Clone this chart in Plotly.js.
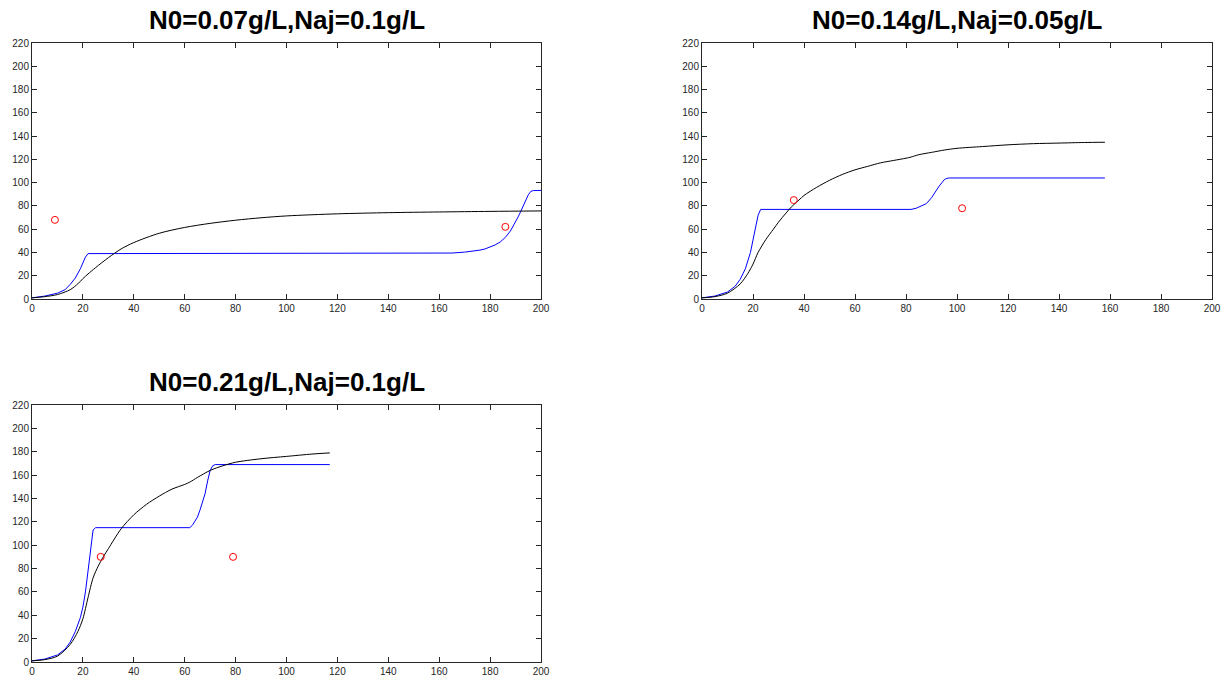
<!DOCTYPE html>
<html>
<head>
<meta charset="utf-8">
<script src="https://cdn.plot.ly/plotly-3.0.1.min.js"></script>
<style>html,body{margin:0;padding:0;background:#fff;}#chart{width:1227px;height:682px;}</style>
</head>
<body>
<div id="chart"></div>
<script>
// Titles
const titles = ["N0=0.07g/L,Naj=0.1g/L", "N0=0.14g/L,Naj=0.05g/L", "N0=0.21g/L,Naj=0.1g/L"];

// Subplot 1
const p1BlackX = [0,5,10,15,18,20,22,25,30,35,40,50,60,70,80,90,100,120,140,160,180,200];
const p1BlackY = [1,2,3.8,8,13,17.5,21.5,27,35.5,43,48.5,56.5,61.5,65,67.7,69.8,71.4,73.2,74.2,74.8,75.3,75.7];
const p1BlueX = [0,5,10,13,15,17,19,20,21,22,23,50,100,150,160,165,170,173,176,178,180,182,184,186,188,190,191,192,193,194,195,196,197,200];
const p1BlueY = [1,2.5,5,8,12.5,18,26,31,36,39,39,39,39,39,39.2,39.5,40.3,41,42,43,44.5,46.5,49,53,58.5,66,70.5,75,80,85,89.5,92.5,93.2,93.3];
const p1RedX = [9,186];
const p1RedY = [68,62];

// Subplot 2
const p2BlackX = [0,5,10,15,18,20,22,25,28,30,33,35,38,40,45,50,55,60,65,70,75,80,82,85,90,95,100,110,120,130,140,150,158];
const p2BlackY = [1,2,5,13,22,30,40,51,60,66,74,79,85,89,96,102,107,111,114,117,119,121,122,124,126,128,129.5,131,132.5,133.5,134,134.5,134.7];
const p2BlueX = [0,5,10,13,15,17,19,20,21,22,23,50,82,84,86,88,90,92,93,95,96,97,158];
const p2BlueY = [1,2.5,6,11,17,26,40,50,62,72,77,77,77,78,80,82,87,94,97,102.5,103.7,104,104];
const p2RedX = [36,102];
const p2RedY = [85,78];

// Subplot 3
const p3BlackX = [0,5,10,15,18,20,22,24,26,28,30,35,40,45,50,55,60,62,65,70,75,80,90,100,110,117];
const p3BlackY = [1,2,5,15,26,37,55,72,82,90,97,114,126,135,142,148,152,154,158,164,168,171,174,176,178,179];
const p3BlueX = [0,5,10,13,15,17,19,20,21,22,23,24,25,62,63,64,65,66,67,68,69,70,71,72,117];
const p3BlueY = [1,2.5,6,11,17,26,38,47,60,78,98,113,115,115,117,120,124,130,137,144,155,164,168,169,169];
const p3RedX = [27,79];
const p3RedY = [90,90];

const xTicks = [0,20,40,60,80,100,120,140,160,180,200];
const yTicks = [0,20,40,60,80,100,120,140,160,180,200,220];

function lines(bx, by, ux, uy, rx, ry, xa, ya) {
  return [
    {x: ux, y: uy, type: 'scatter', mode: 'lines', line: {color: '#0000ff', width: 1}, xaxis: xa, yaxis: ya, hoverinfo: 'skip'},
    {x: bx, y: by, type: 'scatter', mode: 'lines', line: {color: '#000000', width: 1, shape: 'spline', smoothing: 0.8}, xaxis: xa, yaxis: ya, hoverinfo: 'skip'},
    {x: rx, y: ry, type: 'scatter', mode: 'markers', marker: {symbol: 'circle-open', size: 7, color: '#ff0000', line: {width: 1, color: '#ff0000'}}, xaxis: xa, yaxis: ya, hoverinfo: 'skip'}
  ];
}

const data = [].concat(
  lines(p1BlackX, p1BlackY, p1BlueX, p1BlueY, p1RedX, p1RedY, 'x', 'y'),
  lines(p2BlackX, p2BlackY, p2BlueX, p2BlueY, p2RedX, p2RedY, 'x2', 'y2'),
  lines(p3BlackX, p3BlackY, p3BlueX, p3BlueY, p3RedX, p3RedY, 'x3', 'y3')
);

const W = 1227, H = 682;
function xd(l, r) { return [l / W, r / W]; }
function yd(t, b) { return [1 - b / H, 1 - t / H]; }

function xaxis(dom, anchor) {
  return {domain: dom, anchor: anchor, range: [0, 200], tickvals: xTicks, ticks: 'inside', ticklen: 5, tickwidth: 1,
    tickcolor: '#262626', showline: true, linecolor: '#262626', linewidth: 1, mirror: 'ticks', showgrid: false, zeroline: false,
    tickfont: {family: 'Liberation Sans, Arial, sans-serif', size: 10, color: '#262626'}, automargin: false, fixedrange: true};
}
function yaxis(dom, anchor) {
  return {domain: dom, anchor: anchor, range: [0, 220], tickvals: yTicks, ticks: 'inside', ticklen: 5, tickwidth: 1,
    tickcolor: '#262626', showline: true, linecolor: '#262626', linewidth: 1, mirror: 'ticks', showgrid: false, zeroline: false,
    tickfont: {family: 'Liberation Sans, Arial, sans-serif', size: 10, color: '#262626'}, automargin: false, fixedrange: true};
}

const d1x = xd(32, 541), d2x = xd(702, 1212);
const d1y = yd(43, 299), d3y = yd(405, 662);

function titleAnn(text, dom, yc) {
  return {text: '<b>' + text + '</b>', x: (dom[0] + dom[1]) / 2, y: 1 - yc / H, xref: 'paper', yref: 'paper',
    xanchor: 'center', yanchor: 'middle', showarrow: false,
    font: {family: 'Liberation Sans, Arial, sans-serif', size: 26, color: '#000'}};
}

const layout = {
  width: W, height: H,
  margin: {l: 0, r: 0, t: 0, b: 0},
  paper_bgcolor: '#ffffff', plot_bgcolor: '#ffffff',
  showlegend: false,
  xaxis: xaxis(d1x, 'y'), yaxis: yaxis(d1y, 'x'),
  xaxis2: xaxis(d2x, 'y2'), yaxis2: yaxis(d1y, 'x2'),
  xaxis3: xaxis(d1x, 'y3'), yaxis3: yaxis(d3y, 'x3'),
  annotations: [
    titleAnn(titles[0], d1x, 20),
    titleAnn(titles[1], d2x, 20),
    titleAnn(titles[2], d1x, 382)
  ]
};

Plotly.newPlot('chart', data, layout, {displayModeBar: false, staticPlot: true});
</script>
</body>
</html>
